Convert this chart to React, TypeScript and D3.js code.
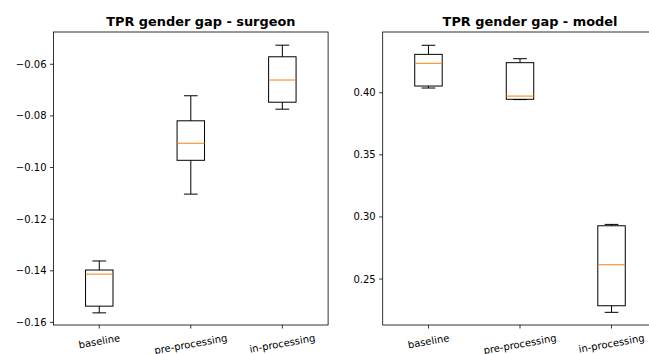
import React, { useEffect, useRef } from 'react';
import * as d3 from 'd3';

// x categories shared by both panels
const categories = ['baseline', 'pre-processing', 'in-processing'];

// box stats per category: [whiskerLow, q1, median, q3, whiskerHigh]
const surgeonStats = [
  [-0.1563, -0.1537, -0.1413, -0.1397, -0.1362],
  [-0.1103, -0.0972, -0.0906, -0.0819, -0.0722],
  [-0.0774, -0.0747, -0.0661, -0.0571, -0.0526],
];
const modelStats = [
  [0.4038, 0.4054, 0.4237, 0.4309, 0.4382],
  [0.3945, 0.3947, 0.3973, 0.4242, 0.4274],
  [0.2232, 0.2285, 0.2615, 0.2929, 0.2940],
];

const surgeonTicks = [-0.16, -0.14, -0.12, -0.1, -0.08, -0.06];
const modelTicks = [0.25, 0.3, 0.35, 0.4];

const surgeonDomain = [-0.161, -0.0475];
const modelDomain = [0.213, 0.4489];

const panels = [
  { title: 'TPR gender gap - surgeon', stats: surgeonStats, ticks: surgeonTicks, domain: surgeonDomain, left: 53.5 },
  { title: 'TPR gender gap - model', stats: modelStats, ticks: modelTicks, domain: modelDomain, left: 382.7 },
];

const W = 649;
const H = 354;
const top = 32;
const bottom = 325;
const axW = 274.6;
const font = 'DejaVu Sans, sans-serif';

export default function App() {
  const ref = useRef<SVGSVGElement>(null);

  useEffect(() => {
    const svg = d3.select(ref.current);
    svg.selectAll('*').remove();
    const fmt = d3.format('.2f');

    panels.forEach((p) => {
      const x = d3.scaleLinear().domain([0.5, 3.5]).range([p.left, p.left + axW]);
      const y = d3.scaleLinear().domain(p.domain).range([bottom, top]);
      const g = svg.append('g');
      const boxW = x(1.15) - x(0.85);
      const capW = boxW / 2;

      // boxes
      p.stats.forEach((s, i) => {
        const cx = x(i + 1);
        const [lo, q1, med, q3, hi] = s;
        const b = g.append('g').attr('stroke', '#000').attr('stroke-width', 1).attr('fill', 'none');
        b.append('line').attr('x1', cx).attr('x2', cx).attr('y1', y(q1)).attr('y2', y(lo));
        b.append('line').attr('x1', cx).attr('x2', cx).attr('y1', y(q3)).attr('y2', y(hi));
        b.append('line').attr('x1', cx - capW / 2).attr('x2', cx + capW / 2).attr('y1', y(lo)).attr('y2', y(lo));
        b.append('line').attr('x1', cx - capW / 2).attr('x2', cx + capW / 2).attr('y1', y(hi)).attr('y2', y(hi));
        b.append('rect').attr('x', cx - boxW / 2).attr('width', boxW).attr('y', y(q3)).attr('height', y(q1) - y(q3));
        g.append('line').attr('x1', cx - boxW / 2).attr('x2', cx + boxW / 2).attr('y1', y(med)).attr('y2', y(med))
          .attr('stroke', '#ff7f0e').attr('stroke-width', 1);
      });

      // spines
      g.append('rect').attr('x', p.left).attr('y', top).attr('width', axW).attr('height', bottom - top)
        .attr('fill', 'none').attr('stroke', '#000').attr('stroke-width', 0.8);

      // y ticks
      p.ticks.forEach((t) => {
        g.append('line').attr('x1', p.left - 3.5).attr('x2', p.left).attr('y1', y(t)).attr('y2', y(t))
          .attr('stroke', '#000').attr('stroke-width', 0.8);
        g.append('text').attr('x', p.left - 7).attr('y', y(t)).attr('dy', '0.35em')
          .attr('text-anchor', 'end').attr('font-family', font).attr('font-size', 10).text(fmt(t));
      });

      // x ticks with rotated labels
      categories.forEach((c, i) => {
        const cx = x(i + 1);
        g.append('line').attr('x1', cx).attr('x2', cx).attr('y1', bottom).attr('y2', bottom + 3.5)
          .attr('stroke', '#000').attr('stroke-width', 0.8);
        const t = g.append('text').attr('font-family', font).attr('font-size', 10)
          .attr('text-anchor', 'middle').attr('dy', '0.35em').text(c);
        const w = (t.node() as SVGTextElement).getComputedTextLength();
        const a = (10 * Math.PI) / 180;
        const bh = w * Math.sin(a) + 11.6 * Math.cos(a);
        const cy = bottom + 7 + bh / 2;
        t.attr('x', cx).attr('y', cy).attr('transform', `rotate(-10,${cx},${cy})`);
      });

      // title
      g.append('text').attr('x', p.left + axW / 2 + 10).attr('y', top - 6)
        .attr('text-anchor', 'middle').attr('font-family', font).attr('font-size', 12.9)
        .attr('font-weight', 'bold').text(p.title);
    });
  }, []);

  return (
    <svg ref={ref} width={W} height={H} style={{ position: 'absolute', left: 0, top: 0, background: '#fff' }} />
  );
}
